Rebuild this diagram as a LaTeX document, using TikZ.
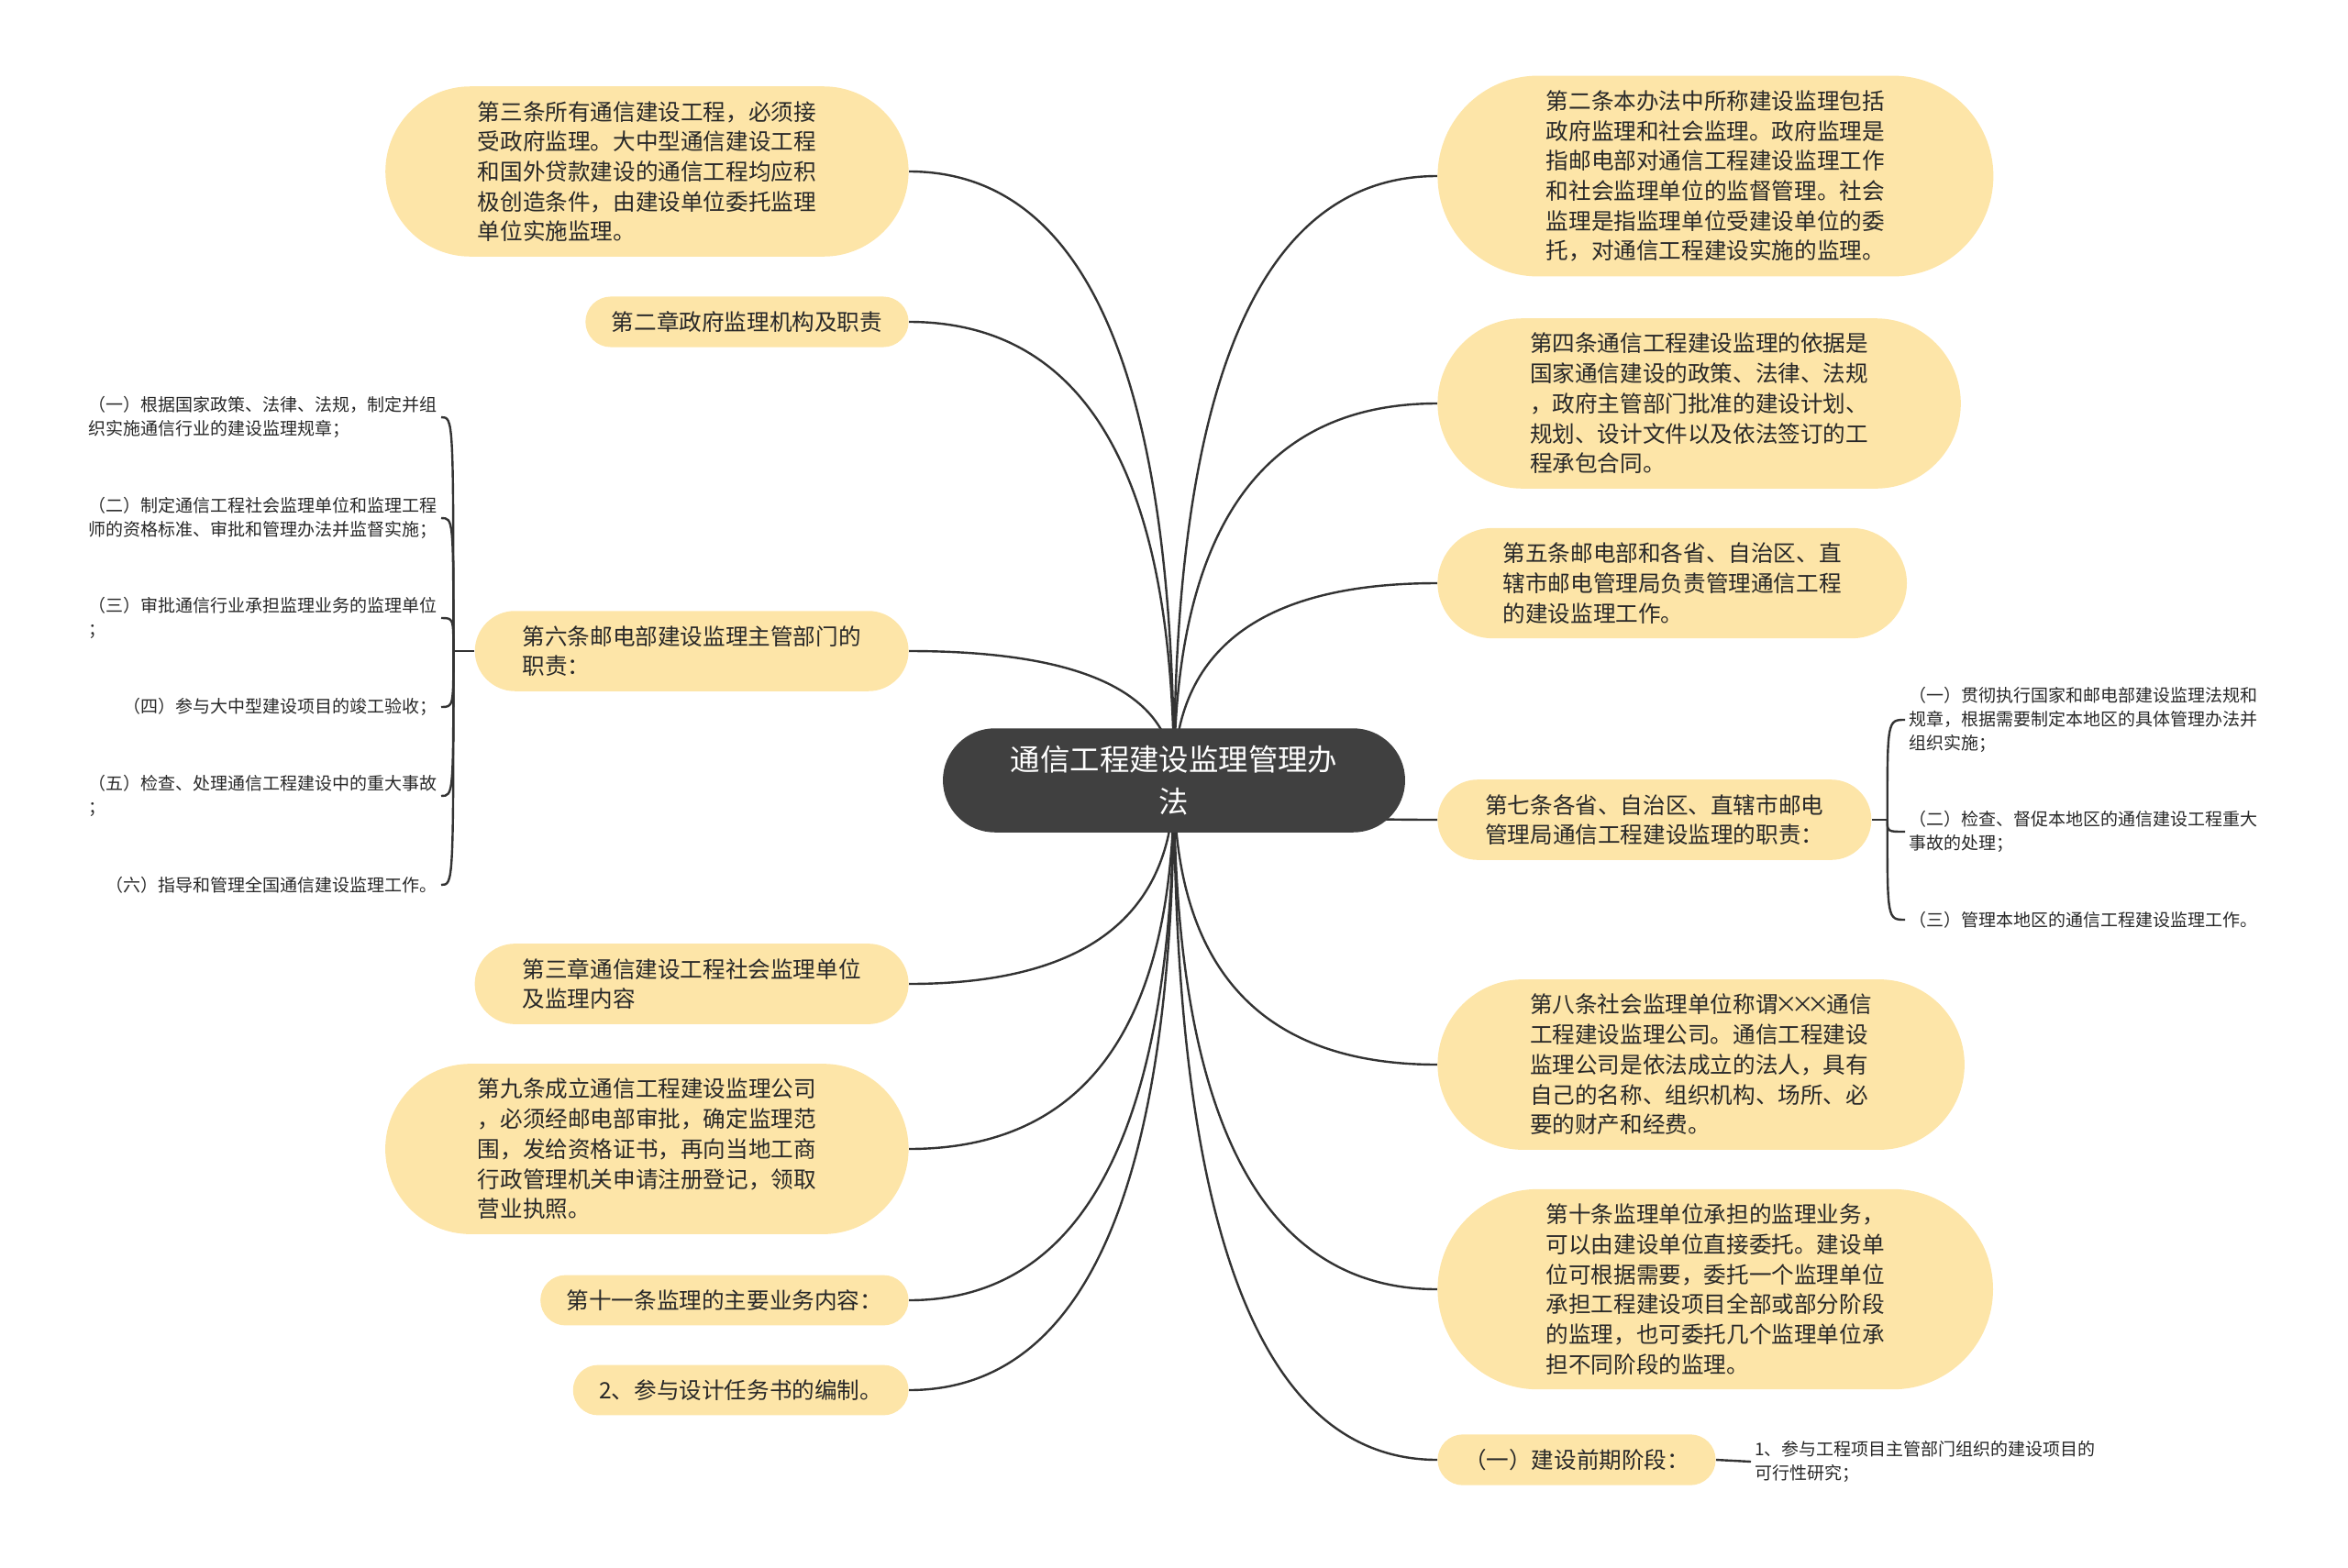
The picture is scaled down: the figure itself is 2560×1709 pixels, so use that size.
\documentclass[tikz,border=0pt]{standalone}
\usepackage{fontspec}
\setmainfont{Noto Sans CJK SC}
\usepackage{xcolor}
\usepackage{tikz}
\usetikzlibrary{calc, shapes.misc, backgrounds}

\definecolor{nenvang}{RGB}{253,229,168}
\definecolor{nengoc}{RGB}{64,64,64}
\definecolor{duongnoi}{RGB}{51,51,51}
\definecolor{mauchu}{RGB}{40,40,40}

\begin{document}
\begin{tikzpicture}[x=0.5pt, y=-0.5pt,
    goc/.style={rounded rectangle, fill=nengoc, text=white, align=center,
        inner xsep=29.7pt, inner ysep=9.5pt, font=\fontsize{16.2}{22.8}\selectfont},
    hop/.style={rounded rectangle, fill=nenvang, text=mauchu, align=left,
        inner xsep=#1, inner ysep=8pt, font=\fontsize{12.3}{16.35}\selectfont},
    hop/.default=13pt,
    la/.style={text=mauchu, align=left, inner sep=2pt, font=\fontsize{9.5}{13}\selectfont},
    noi/.style={draw=duongnoi, line width=1.2pt}]
    % Khung của hình
    \useasboundingbox (0,0) rectangle (2560,1709);

    % Nút gốc ở giữa
    \node[goc] (goc) at (1280,851) {通信工程建设监理管理办\\法};

    % Các nhánh bên trái
    \node[hop=30pt, anchor=east] (s3) at (991,187) {第三条所有通信建设工程，必须接\\受政府监理。大中型通信建设工程\\和国外贷款建设的通信工程均应积\\极创造条件，由建设单位委托监理\\单位实施监理。};
    \node[hop, anchor=east] (c2) at (991,351) {第二章政府监理机构及职责};
    \node[hop=21pt, anchor=east] (s6) at (991,710) {第六条邮电部建设监理主管部门的\\职责：};
    \node[hop=21pt, anchor=east] (c3) at (991,1073) {第三章通信建设工程社会监理单位\\及监理内容};
    \node[hop=30pt, anchor=east] (s9) at (991,1253) {第九条成立通信工程建设监理公司\\，必须经邮电部审批，确定监理范\\围，发给资格证书，再向当地工商\\行政管理机关申请注册登记，领取\\营业执照。};
    \node[hop, anchor=east] (s11) at (991,1418) {第十一条监理的主要业务内容：};
    \node[hop, anchor=east] (t2) at (991,1516) {2、参与设计任务书的编制。};

    % Các nhánh bên phải
    \node[hop=33pt, anchor=west] (s2) at (1567,192) {第二条本办法中所称建设监理包括\\政府监理和社会监理。政府监理是\\指邮电部对通信工程建设监理工作\\和社会监理单位的监督管理。社会\\监理是指监理单位受建设单位的委\\托，对通信工程建设实施的监理。};
    \node[hop=30pt, anchor=west] (s4) at (1567,440) {第四条通信工程建设监理的依据是\\国家通信建设的政策、法律、法规\\，政府主管部门批准的建设计划、\\规划、设计文件以及依法签订的工\\程承包合同。};
    \node[hop=26pt, anchor=west] (s5) at (1567,636) {第五条邮电部和各省、自治区、直\\辖市邮电管理局负责管理通信工程\\的建设监理工作。};
    \node[hop=21pt, anchor=west] (s7) at (1567,894) {第七条各省、自治区、直辖市邮电\\管理局通信工程建设监理的职责：};
    \node[hop=30pt, anchor=west] (s8) at (1567,1161) {第八条社会监理单位称谓\makebox[0.72em]{×}\makebox[0.72em]{×}\makebox[0.72em]{×}通信\\工程建设监理公司。通信工程建设\\监理公司是依法成立的法人，具有\\自己的名称、组织机构、场所、必\\要的财产和经费。};
    \node[hop=33pt, anchor=west] (s10) at (1567,1406) {第十条监理单位承担的监理业务，\\可以由建设单位直接委托。建设单\\位可根据需要，委托一个监理单位\\承担工程建设项目全部或部分阶段\\的监理，也可委托几个监理单位承\\担不同阶段的监理。};
    \node[hop, anchor=west] (p1) at (1567,1592) {（一）建设前期阶段：};

    % Các lá của第六条
    \node[la, anchor=east] (l1) at (481,455) {（一）根据国家政策、法律、法规，制定并组\\织实施通信行业的建设监理规章；};
    \node[la, anchor=east] (l2) at (481,565) {（二）制定通信工程社会监理单位和监理工程\\师的资格标准、审批和管理办法并监督实施；};
    \node[la, anchor=east] (l3) at (481,674) {（三）审批通信行业承担监理业务的监理单位\\；};
    \node[la, anchor=east] (l4) at (481,771) {（四）参与大中型建设项目的竣工验收；};
    \node[la, anchor=east] (l5) at (481,868) {（五）检查、处理通信工程建设中的重大事故\\；};
    \node[la, anchor=east] (l6) at (481,965) {（六）指导和管理全国通信建设监理工作。};

    % Các lá của第七条 và (一)
    \node[la, anchor=west] (r1) at (2077,785) {（一）贯彻执行国家和邮电部建设监理法规和\\规章，根据需要制定本地区的具体管理办法并\\组织实施；};
    \node[la, anchor=west] (r2) at (2077,907) {（二）检查、督促本地区的通信建设工程重大\\事故的处理；};
    \node[la, anchor=west] (r3) at (2077,1003) {（三）管理本地区的通信工程建设监理工作。};
    \node[la, anchor=west] (q1) at (1909,1594) {1、参与工程项目主管部门组织的建设项目的\\可行性研究；};

    % Đường nối, vẽ phía sau các nút
    \begin{pgfonlayer}{background}
        \foreach \n in {s3,c2,s6,c3,s9,s11,t2}
            \draw[noi] (goc.center) .. controls ($(goc.center)!2/3!(goc.center |- \n.east)$)
                and ($(\n.east)!2/3!(goc.center |- \n.east)$) .. (\n.east);
        \foreach \n in {s2,s4,s5,s7,s8,s10,p1}
            \draw[noi] (goc.center) .. controls ($(goc.center)!2/3!(goc.center |- \n.west)$)
                and ($(\n.west)!2/3!(goc.center |- \n.west)$) .. (\n.west);

        % Ngoặc bên trái
        \coordinate (ngt) at ($(s6.west)+(-23,0)$);
        \draw[noi] (s6.west) -- (ngt);
        \foreach \n in {l1,l2,l3,l4,l5,l6}
            \draw[noi] (ngt) .. controls (ngt |- \n.east) .. (\n.east);

        % Ngoặc bên phải
        \coordinate (ngp) at ($(s7.east)+(17,0)$);
        \draw[noi] (s7.east) -- (ngp);
        \foreach \n in {r1,r2,r3}
            \draw[noi] (ngp) .. controls (ngp |- \n.west) .. (\n.west);

        \draw[noi] (p1.east) -- (q1.west);
    \end{pgfonlayer}
\end{tikzpicture}
\end{document}
